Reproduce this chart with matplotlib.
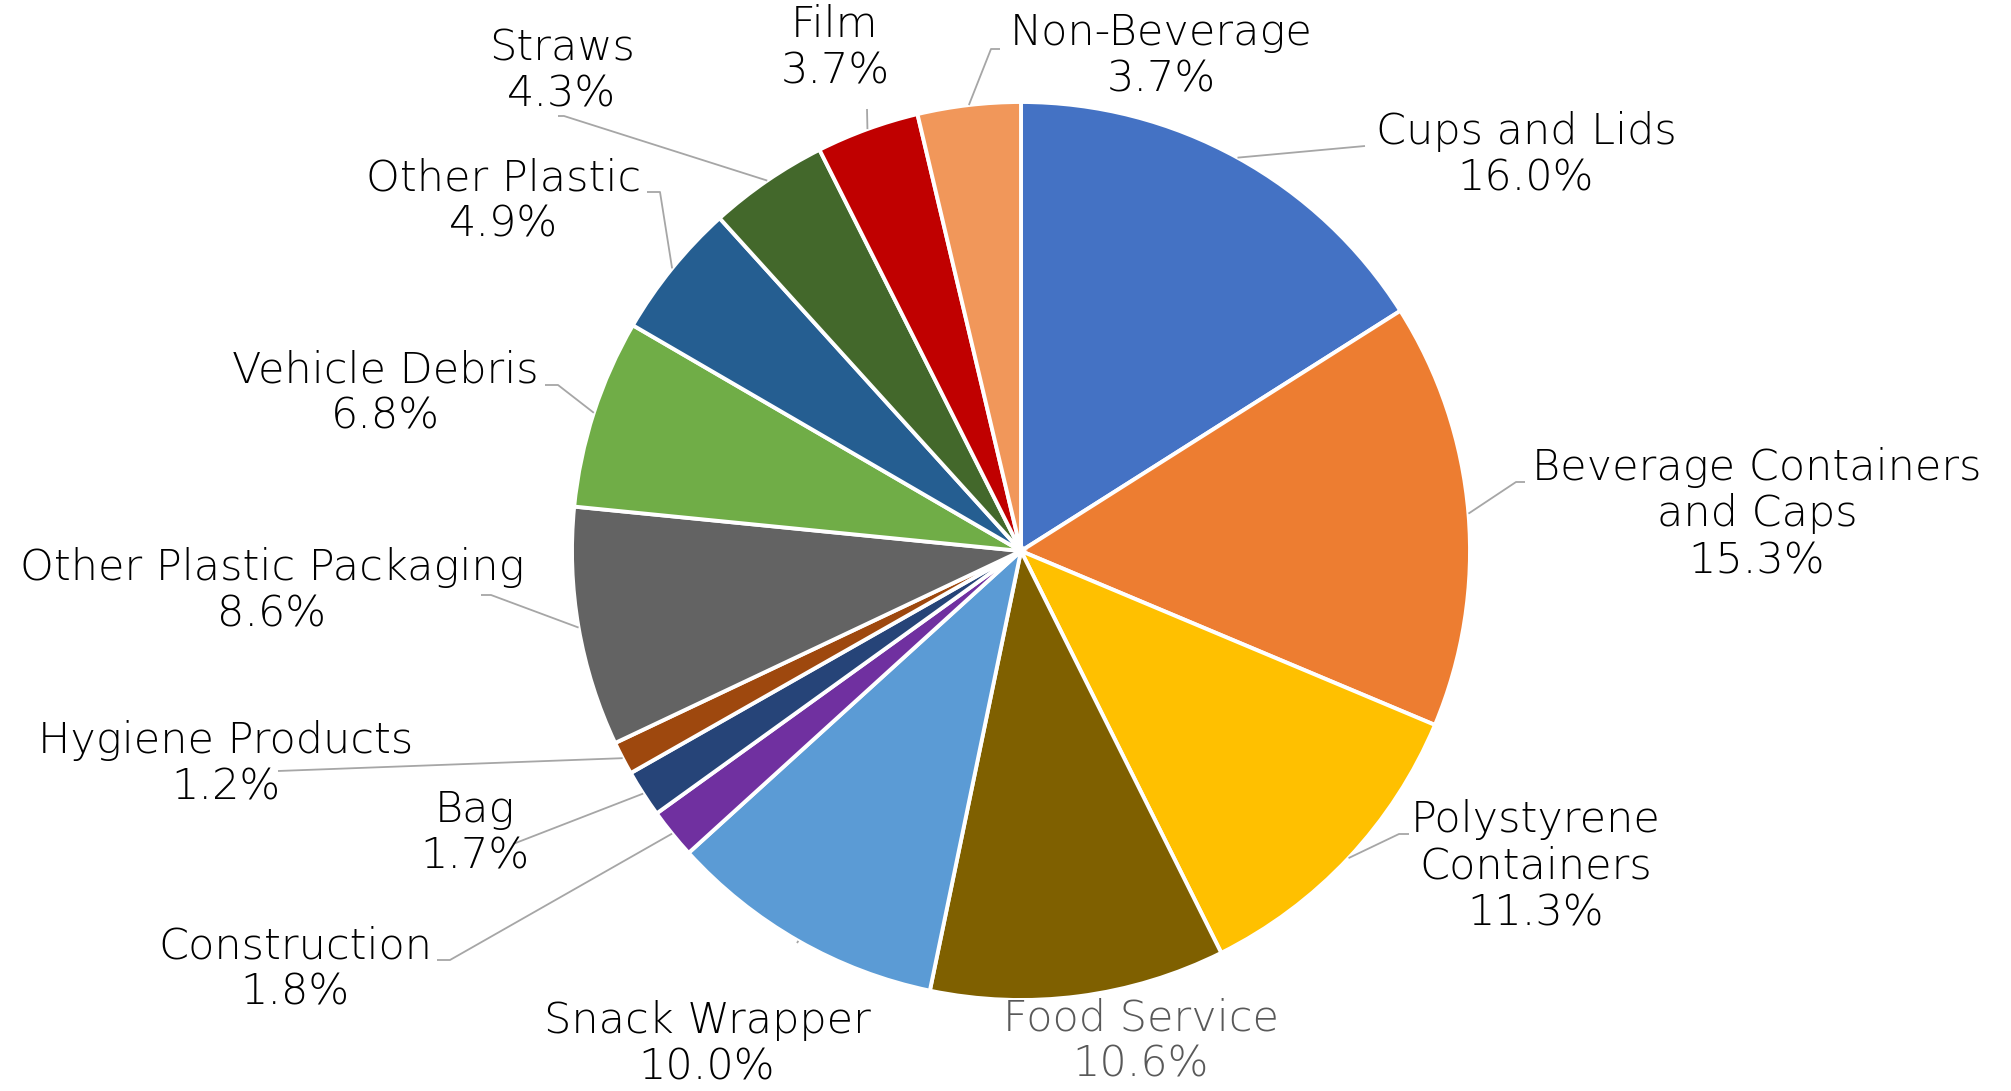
import matplotlib
matplotlib.use("Agg")
import matplotlib.pyplot as plt
import numpy as np

# Share of plastic litter items by category (%)
categories = [
    "Cups and Lids", "Beverage Containers\nand Caps", "Polystyrene\nContainers",
    "Food Service", "Snack Wrapper", "Construction", "Bag", "Hygiene Products",
    "Other Plastic Packaging", "Vehicle Debris", "Other Plastic", "Straws",
    "Film", "Non-Beverage",
]
shares = [16.0, 15.3, 11.3, 10.6, 10.0, 1.8, 1.7, 1.2, 8.6, 6.8, 4.9, 4.3, 3.7, 3.7]
colors = [
    "#4472C4", "#ED7D31", "#FFC000", "#7F6000", "#5B9BD5", "#7030A0", "#264478",
    "#9E480E", "#636363", "#70AD47", "#255E91", "#43682B", "#C00000", "#F1975A",
]

W, H = 2011, 1091
CX, CY, R = 1021, 551, 449  # pie centre / radius in pixels (y measured from top)

# label block centres (pixels from top-left)
label_pos = [
    (1526, 155), (1757, 514), (1536, 866), (1141, 1041), (707, 1044),
    (295, 969), (475, 833), (226, 764), (272, 591), (385, 393),
    (504, 201), (562, 71), (835, 48), (1161, 56),
]
# leader line elbows and ends (pixels); None = no leader line
leader_pts = [
    [(1365, 146)],
    [(1516, 482), (1525, 482)],
    [(1399, 834), (1409, 834)],
    None,
    [(797, 943)],
    [(450, 960), (437, 960)],
    [(513, 844)],
    [(278, 771)],
    [(491, 595), (481, 595)],
    [(558, 385), (545, 385)],
    [(660, 192), (647, 192)],
    [(564, 116), (558, 116)],
    [(867, 109)],
    [(991, 49), (1000, 49)],
]
label_colors = ["black"] * len(categories)
label_colors[3] = "#595959"

plt.rcParams["font.family"] = ["DejaVu Sans"]

fig = plt.figure(figsize=(W / 100, H / 100), dpi=100)
ax = fig.add_axes([0, 0, 1, 1])

ax.pie(
    shares, colors=colors, startangle=90, counterclock=False,
    center=(CX, H - CY), radius=R,
    wedgeprops=dict(edgecolor="white", linewidth=2.8),
)
ax.set_xlim(0, W)
ax.set_ylim(0, H)
ax.set_aspect("equal")
ax.axis("off")

total = sum(shares)
cum = 0.0
for name, val, pos, pts, tc in zip(categories, shares, label_pos, leader_pts, label_colors):
    mid = 90 - (cum + val / 2) / total * 360
    cum += val
    if pts is not None:
        sx = CX + R * np.cos(np.radians(mid))
        sy = CY - R * np.sin(np.radians(mid))
        xs = [sx] + [p[0] for p in pts]
        ys = [H - sy] + [H - p[1] for p in pts]
        ax.plot(xs, ys, color="#A6A6A6", lw=1.3, solid_capstyle="butt", zorder=1)
    ax.text(pos[0], H - pos[1], f"{name}\n{val:.1f}%", ha="center", va="center",
            fontsize=31, fontweight=200, color=tc, linespacing=1.18)

fig.savefig("out.png", dpi=100)
